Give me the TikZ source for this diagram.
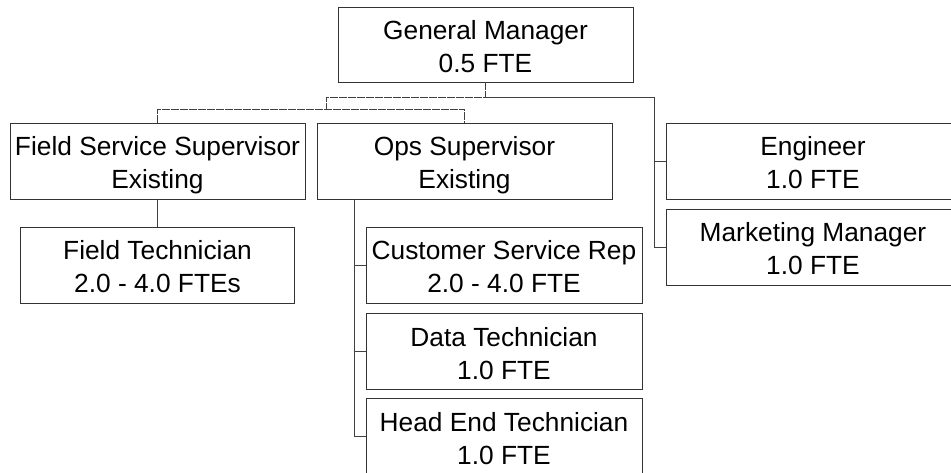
\documentclass[tikz,border=0pt]{standalone}
\usepackage{fontspec}
\setmainfont{Liberation Sans}
\newcommand\twol[2]{\rule{0pt}{28pt}#1\\#2\rule[-5pt]{0pt}{5pt}}
\tikzset{
  box/.style={draw=black!80, line width=0.9pt, inner sep=0pt, align=center,
    font=\fontsize{26.3}{33}\selectfont, minimum height=76pt},
  link/.style={draw=black!75, line width=0.9pt},
  dlink/.style={link, dash pattern=on 8pt off 1pt}
}
\begin{document}
\begin{tikzpicture}[x=1pt,y=-1pt]
\useasboundingbox (0,0) rectangle (951,473);
\clip (0,0) rectangle (951,473);
\node[box, minimum width=295pt, minimum height=75pt] (GM) at (485.5,44.5) {\twol{General Manager}{0.5 FTE}};
\node[box, minimum width=295pt] (FSS) at (157.5,161) {\twol{Field Service Supervisor}{Existing}};
\node[box, minimum width=295pt] (Ops) at (464.5,161) {\twol{Ops Supervisor}{Existing}};
\node[box, minimum width=294pt] (Eng) at (813,161) {\twol{Engineer}{1.0 FTE}};
\node[box, minimum width=294pt] (Mkt) at (813,247) {\twol{Marketing Manager}{1.0 FTE}};
\node[box, minimum width=274pt] (FT) at (157.5,265) {\twol{Field Technician}{2.0 - 4.0 FTEs}};
\node[box, minimum width=276pt] (CSR) at (504,265) {\twol{Customer Service Rep}{2.0 - 4.0 FTE}};
\node[box, minimum width=276pt] (Data) at (504,351) {\twol{Data Technician}{1.0 FTE}};
\node[box, minimum width=276pt] (HE) at (504,436) {\twol{Head End Technician}{1.0 FTE}};
\coordinate (jl) at (326,97);
\coordinate (jr) at (654,97);
\coordinate (jl2) at (326,109);
\coordinate (ot) at (354,199);
\draw[dlink] (GM.south) -- (GM.south |- jl) -- (jl) -- (jl2);
\draw[dlink] (FSS.north) -- (FSS.north |- jl2) -- (Ops.north |- jl2) -- (Ops.north);
\draw[link] (GM.south |- jl) -- (jr) |- (Mkt.west);
\draw[link] (jr |- Eng.west) -- (Eng.west);
\draw[link] (FSS.south) -- (FT.north);
\draw[link] (ot) |- (HE.west);
\draw[link] (ot |- CSR.west) -- (CSR.west);
\draw[link] (ot |- Data.west) -- (Data.west);
\end{tikzpicture}
\end{document}
